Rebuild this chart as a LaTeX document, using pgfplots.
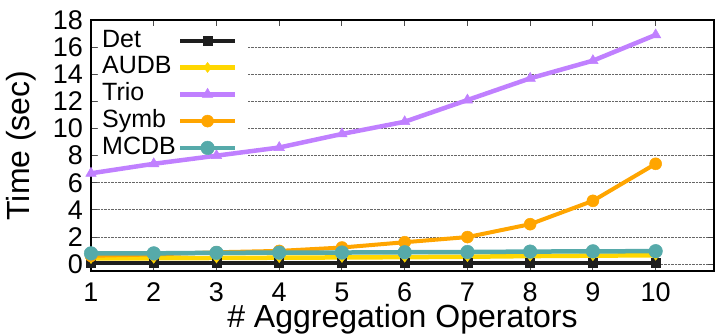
\documentclass[border=0pt]{standalone}
\usepackage{fontspec}
\setmainfont{Liberation Sans}
\usepackage{pgfplots}
\pgfplotsset{compat=1.18}
\definecolor{cDet}{RGB}{30,30,30}
\definecolor{cAUDB}{RGB}{255,215,0}
\definecolor{cTrio}{RGB}{192,128,255}
\definecolor{cSymb}{RGB}{255,165,0}
\definecolor{cMCDB}{RGB}{86,170,170}
\begin{document}
\begin{tikzpicture}[x=1pt,y=1pt]
\useasboundingbox (0,0) rectangle (716,336);
\begin{axis}[
  at={(91pt,65pt)}, anchor=south west,
  scale only axis, width=623pt, height=251pt,
  xmin=1, xmax=10.93, ymin=-0.5, ymax=18,
  xtick={1,...,10}, ytick={0,2,...,18},
  ymajorgrids,
  major grid style={densely dotted, black!60, line width=0.9pt},
  tick align=inside, major tick length=6pt,
  tick style={black!70, line width=1pt},
  axis line style={line width=1.5pt},
  /pgf/number format/assume math mode=true,
  ticklabel style={font=\fontsize{27}{27}\selectfont},
  yticklabel style={inner sep=0pt, anchor=east, xshift=-8pt},
  xticklabel style={inner sep=0pt, anchor=north, yshift=-11pt, text height=19.5pt, text depth=0pt},
  xlabel={\# Aggregation Operators},
  ylabel={Time (sec)},
  label style={font=\fontsize{32}{32}\selectfont},
  xlabel style={at={(axis description cs:0.5,0)}, anchor=base, yshift=-57pt, inner sep=0pt, text height=23pt},
  ylabel style={at={(axis description cs:0,0.5)}, anchor=base, yshift=61pt},
  legend plot pos=right,
  legend cell align=left,
  legend image code/.code={\draw[mark repeat=2,mark phase=2,#1] plot coordinates {(0pt,0pt)(27.5pt,0pt)(55pt,0pt)};},
  legend style={at={(0,1)}, anchor=north west, xshift=3pt, yshift=-9pt,
    draw=none, fill=none, inner xsep=8pt, inner ysep=0pt,
    font=\fontsize{25}{25}\selectfont,
    nodes={inner sep=0pt, text height=18pt, text depth=5pt},
    row sep=3.8pt, column sep=2pt},
]
\fill[white] (rel axis cs:0.011,0.44) rectangle (rel axis cs:0.252,0.972);
\addplot[color=cDet, line width=4pt, mark=square*, mark size=4.5pt, mark options={solid, line width=0.5pt}]
  coordinates {(1,0.1)(2,0.1)(3,0.1)(4,0.1)(5,0.1)(6,0.1)(7,0.1)(8,0.1)(9,0.1)(10,0.1)};
\addlegendentry{Det}
\addplot[color=cAUDB, line width=4.5pt, mark=diamond*, mark size=5pt, mark options={solid, line width=0.5pt}]
  coordinates {(1,0.42)(2,0.44)(3,0.46)(4,0.48)(5,0.5)(6,0.52)(7,0.55)(8,0.6)(9,0.63)(10,0.66)};
\addlegendentry{AUDB}
\addplot[color=cTrio, line width=4.5pt, mark=triangle*, mark size=6pt, mark options={solid, line width=0.5pt}]
  coordinates {(1,6.7)(2,7.4)(3,8.0)(4,8.6)(5,9.6)(6,10.5)(7,12.1)(8,13.7)(9,15.0)(10,16.9)};
\addlegendentry{Trio}
\addplot[color=cSymb, line width=4pt, mark=*, mark size=6pt, mark options={solid, line width=0.5pt}]
  coordinates {(1,0.62)(2,0.72)(3,0.88)(4,0.98)(5,1.23)(6,1.62)(7,2.0)(8,2.95)(9,4.67)(10,7.4)};
\addlegendentry{Symb}
\addplot[color=cMCDB, line width=4.5pt, mark=*, mark size=6.8pt, mark options={solid, line width=0.5pt}]
  coordinates {(1,0.8)(2,0.8)(3,0.84)(4,0.85)(5,0.86)(6,0.88)(7,0.9)(8,0.93)(9,0.95)(10,0.96)};
\addlegendentry{MCDB}
\end{axis}
\end{tikzpicture}
\end{document}
